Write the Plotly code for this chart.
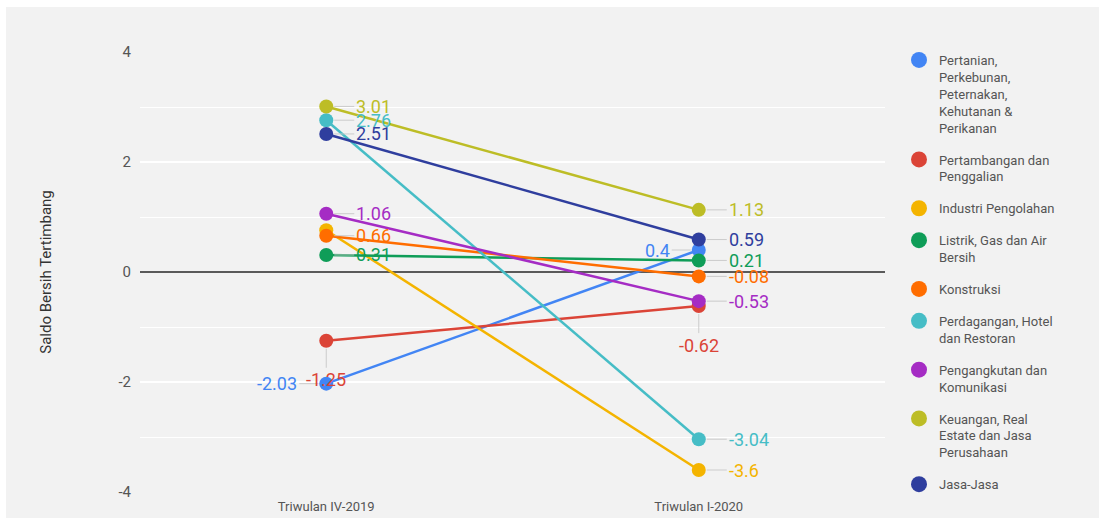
import plotly.graph_objects as go

periods = ["Triwulan IV-2019", "Triwulan I-2020"]
sectors = [
    "Pertanian,<br>Perkebunan,<br>Peternakan,<br>Kehutanan &<br>Perikanan",
    "Pertambangan dan<br>Penggalian",
    "Industri Pengolahan",
    "Listrik, Gas dan Air<br>Bersih",
    "Konstruksi",
    "Perdagangan, Hotel<br>dan Restoran",
    "Pengangkutan dan<br>Komunikasi",
    "Keuangan, Real<br>Estate dan Jasa<br>Perusahaan",
    "Jasa-Jasa",
]
q4_2019 = [-2.03, -1.25, 0.76, 0.31, 0.66, 2.76, 1.06, 3.01, 2.51]
q1_2020 = [0.4, -0.62, -3.6, 0.21, -0.08, -3.04, -0.53, 1.13, 0.59]
y_ticks = [-4, -2, 0, 2, 4]
y_tick_labels = ["-4", "-2", "0", "2", "4"]

colors = ["#4285F4", "#DB4437", "#F4B400", "#0F9D58", "#FF6D00",
          "#46BDC6", "#A52CC4", "#BDBD26", "#2F3E9E"]

# label placement style per (sector, period): "r" right, "l" left, "d" below, None hidden
placement = [
    ("l", "l"), ("d", "d"), (None, "r"), ("r", "r"), ("r", "r"),
    ("r", "r"), ("r", "r"), ("r", "r"), ("r", "r"),
]

fig = go.Figure()
annotations = []
for i, name in enumerate(sectors):
    vals = [q4_2019[i], q1_2020[i]]
    fig.add_trace(go.Scatter(
        x=periods, y=vals, mode="lines+markers", showlegend=False,
        line=dict(color=colors[i], width=2.5),
        marker=dict(color=colors[i], size=14),
        hoverinfo="skip",
    ))
    fig.add_trace(go.Scatter(
        x=[None], y=[None], mode="markers", name=name,
        legendgroup=str(i),
        marker=dict(color=colors[i], size=16),
    ))
    for j, p in enumerate(periods):
        pl = placement[i][j]
        if pl is None:
            continue
        a = dict(x=p, y=vals[j], xref="x", yref="y", text=str(vals[j]),
                 showarrow=True, arrowhead=0, arrowwidth=1,
                 arrowcolor="rgba(200,200,200,0.9)", standoff=8,
                 font=dict(family="Roboto", size=18, color=colors[i]))
        if pl == "r":
            a.update(ax=28, ay=0, xanchor="left", yanchor="middle")
        elif pl == "l":
            a.update(ax=-27, ay=0, xanchor="right", yanchor="middle")
        else:
            a.update(ax=0, ay=39, xanchor="center", yanchor="middle")
        annotations.append(a)

L, R, T, B = 140, 214, 52, 26
W, H = 1099, 518
pw, ph = W - L - R, H - T - B

def fx(px):
    return (px - L) / pw

def fy(py):
    return (H - B - py) / ph

fig.update_layout(
    width=W, height=H,
    margin=dict(l=L, r=R, t=T, b=B, autoexpand=False),
    paper_bgcolor="#ffffff",
    plot_bgcolor="rgba(0,0,0,0)",
    font=dict(family="Roboto", color="#555555"),
    annotations=annotations,
    shapes=[dict(type="rect", xref="paper", yref="paper",
                 x0=fx(6), x1=fx(W + 2), y0=fy(H + 2), y1=fy(7),
                 fillcolor="#f2f2f2", line=dict(width=0), layer="below")],
    xaxis=dict(range=[-0.5, 1.5], showgrid=False, zeroline=False,
               showline=False, ticks="", ticklabelstandoff=5,
               tickfont=dict(size=13, color="#555555")),
    yaxis=dict(range=[-4, 4], tickvals=y_ticks, ticktext=y_tick_labels, ticks="",
               showgrid=True, gridcolor="#ffffff", gridwidth=1.5,
               minor=dict(dtick=1, showgrid=True, gridcolor="#ffffff", gridwidth=1),
               zeroline=True, zerolinecolor="#5a5a5a", zerolinewidth=2,
               showline=False, ticklabelstandoff=8,
               tickfont=dict(size=15, color="#555555"),
               title=dict(text="Saldo Bersih Tertimbang", standoff=63,
                          font=dict(size=15, color="#333333"))),
    legend=dict(x=fx(899), y=fy(45), xanchor="left", yanchor="top",
                valign="top", traceorder="grouped", tracegroupgap=12,
                maxheight=470,
                bgcolor="rgba(0,0,0,0)",
                font=dict(family="Roboto", size=13, color="#555555")),
)

fig.write_html("out.html")
